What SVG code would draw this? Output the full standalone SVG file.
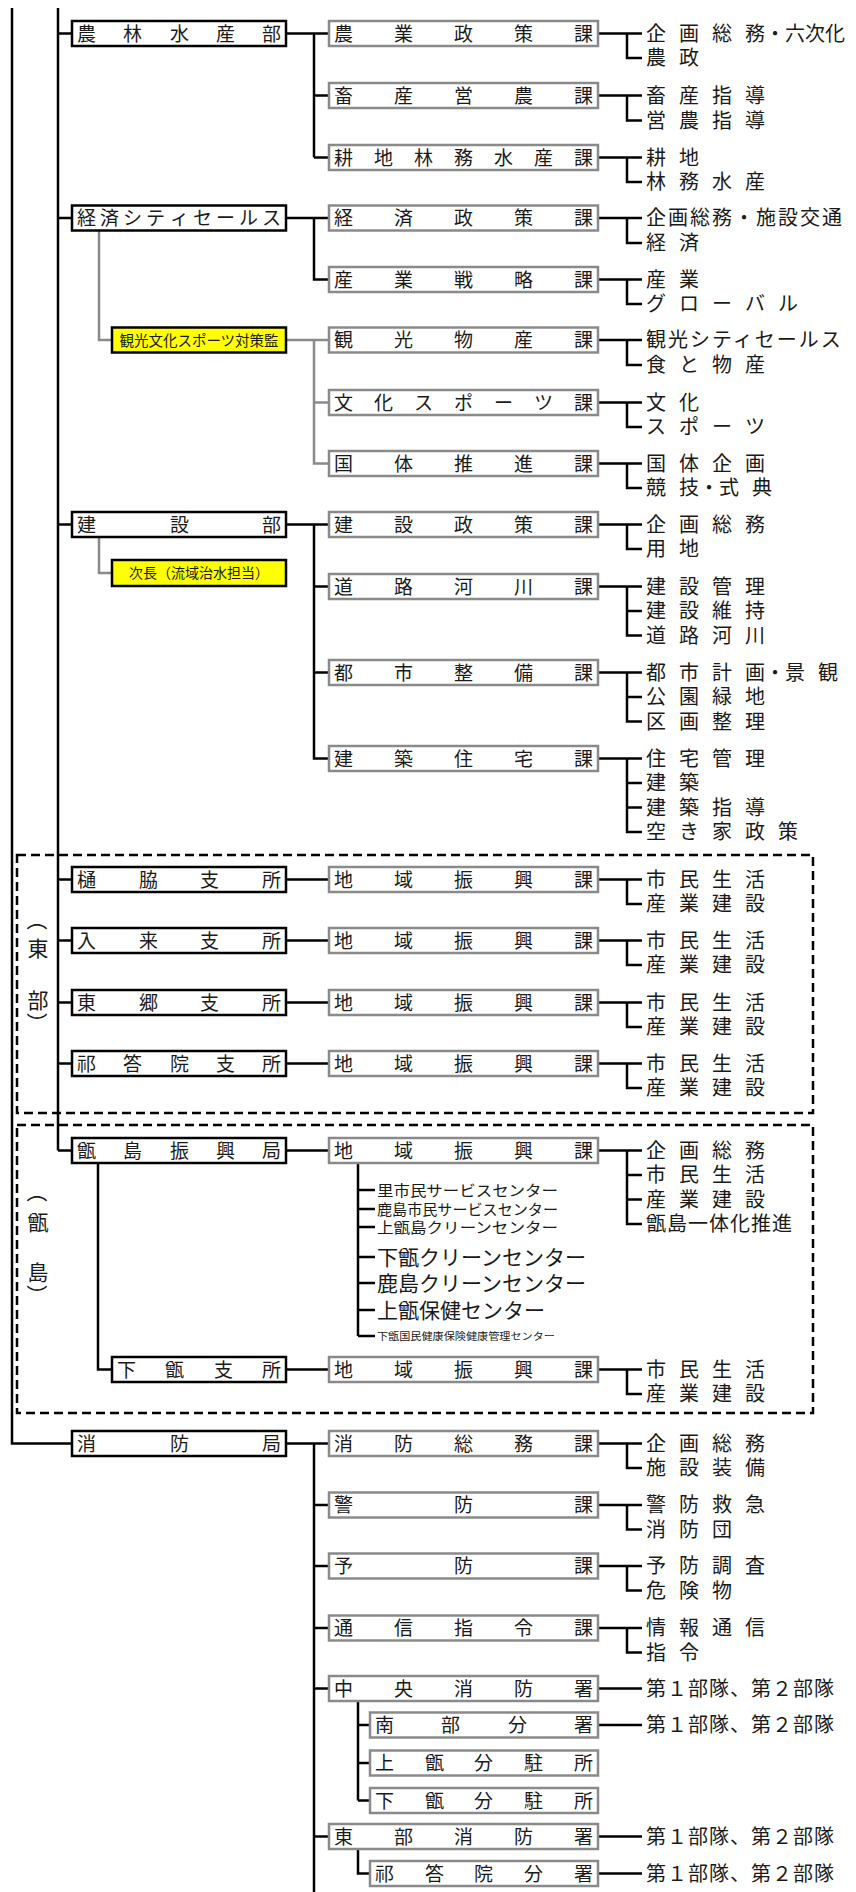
<svg xmlns="http://www.w3.org/2000/svg" width="856" height="1892" viewBox="0 0 856 1892">
<style>
.t{font-family:"Noto Sans CJK JP","Noto Sans CJK SC",sans-serif;fill:#1a1a1a}
.b{font-size:19px}
.i{font-size:20px}
.tight{letter-spacing:2px}
.tight1{letter-spacing:1px}
.ln{stroke:#000;stroke-width:2.5;fill:none}
.gl{stroke:#8a8a8a;stroke-width:2.5;fill:none}
.dept{fill:#fff;stroke:#000;stroke-width:2.5}
.sec{fill:#fff;stroke:#8a8a8a;stroke-width:2.5}
.yel{fill:#ff0;stroke:#000;stroke-width:2.5}
.dash{fill:none;stroke:#000;stroke-width:2.5;stroke-dasharray:9 5}
.vt{font-size:21px;text-anchor:middle}
.vp{font-size:21px;text-anchor:middle;dominant-baseline:central}
</style>
<rect width="856" height="1892" fill="#fff"/>
<g id="areas">
<rect class="dash" x="17" y="855" width="796" height="258"/>
<rect class="dash" x="17" y="1125" width="796" height="288"/>
<g id="label-east">
<text class="t vp" transform="translate(38 920) rotate(90)">（</text>
<text class="t vt" x="38" y="955.5">東</text>
<text class="t vt" x="38" y="1007.5">部</text>
<text class="t vp" transform="translate(38 1023) rotate(90)">）</text>
</g>
<g id="label-koshiki">
<text class="t vp" transform="translate(38 1192) rotate(90)">（</text>
<text class="t vt" x="38" y="1229.5">甑</text>
<text class="t vt" x="38" y="1279.5">島</text>
<text class="t vp" transform="translate(38 1295) rotate(90)">）</text>
</g>
</g>
<g id="connectors">
<path class="ln" d="M12 8V1443.5H72M58 8V1150.5M58 33.5H72M58 218H72M58 524.5H72M58 879.5H72M58 940.5H72M58 1002.5H72M58 1063.5H72M58 1150.5H72"/>
<path class="ln" d="M286 33.5H329M314 33.5V157.5M314 95.5H329M314 157.5H329"/>
<path class="ln" d="M286 218H329M314 218V279.5H329"/>
<path class="gl" d="M99 231V340H112M286 340H329M314 340V463.5H329M314 402.5H329"/>
<path class="ln" d="M286 524.5H329M314 524.5V758.5H329M314 586.5H329M314 672.5H329"/>
<path class="gl" d="M99 537V573H112"/>
<path class="ln" d="M286 879.5H329M286 940.5H329M286 1002.5H329M286 1063.5H329"/>
<path class="ln" d="M286 1150.5H329M98 1163V1369.5H112M286 1369.5H329"/>
<path class="ln" d="M358 1163V1336M358 1190H375M358 1209H375M358 1227H375M358 1257H375M358 1283H375M358 1310H375M358 1336H375"/>
<path class="ln" d="M286 1443.5H329M314 1443.5V1892M314 1505H329M314 1566H329M314 1628H329M314 1688.5H329M314 1836.5H329"/>
<path class="ln" d="M358 1701V1800.5M358 1725H370M358 1763H370M358 1800.5H370M358 1849V1873.5H370"/>
<path class="ln" d="M598 1688.5H642M598 1725H642M598 1836.5H642M598 1873.5H642"/>
<path class="ln" d="M598 33.5H642M627 33.5V58H642M598 95.5H642M627 95.5V120.5H642M598 157.5H642M627 157.5V182H642"/>
<path class="ln" d="M598 218H642M627 218V243H642M598 279.5H642M627 279.5V304H642M598 340H642M627 340V365H642M598 402.5H642M627 402.5V427H642M598 463.5H642M627 463.5V488H642"/>
<path class="ln" d="M598 524.5H642M627 524.5V549H642M598 586.5H642M627 586.5V635.5H642M627 611H642M598 672.5H642M627 672.5V721.5H642M627 697H642M598 758.5H642M627 758.5V832H642M627 783H642M627 807.5H642"/>
<path class="ln" d="M598 879.5H642M627 879.5V904H642M598 940.5H642M627 940.5V965H642M598 1002.5H642M627 1002.5V1027H642M598 1063.5H642M627 1063.5V1088H642"/>
<path class="ln" d="M598 1150.5H642M627 1150.5V1224H642M627 1175H642M627 1199.5H642M598 1369.5H642M627 1369.5V1394H642"/>
<path class="ln" d="M598 1443.5H642M627 1443.5V1468H642M598 1505H642M627 1505V1529.5H642M598 1566H642M627 1566V1590.5H642M598 1628H642M627 1628V1652.5H642"/>
</g>
<g id="n-nourin"><rect class="dept" x="72" y="21" width="214" height="25"/><text class="t b" x="77 123 170 216 262" y="40.5">農林水産部</text></g>
<g id="n-keizai"><rect class="dept" x="72" y="205.5" width="214" height="25"/><text class="t b" x="77 100 123 146 170 193 216 239 262" y="225">経済シティセールス</text></g>
<g id="n-kensetsu"><rect class="dept" x="72" y="512" width="214" height="25"/><text class="t b" x="77 170 262" y="531.5">建設部</text></g>
<g id="n-hiwaki"><rect class="dept" x="72" y="867" width="214" height="25"/><text class="t b" x="77 139 200 262" y="886.5">樋脇支所</text></g>
<g id="n-iriki"><rect class="dept" x="72" y="928" width="214" height="25"/><text class="t b" x="77 139 200 262" y="947.5">入来支所</text></g>
<g id="n-tougou"><rect class="dept" x="72" y="990" width="214" height="25"/><text class="t b" x="77 139 200 262" y="1009.5">東郷支所</text></g>
<g id="n-kedoin"><rect class="dept" x="72" y="1051" width="214" height="25"/><text class="t b" x="77 123 170 216 262" y="1070.5">祁答院支所</text></g>
<g id="n-koshiki"><rect class="dept" x="72" y="1138" width="214" height="25"/><text class="t b" x="77 123 170 216 262" y="1157.5">甑島振興局</text></g>
<g id="n-shimokoshiki"><rect class="dept" x="112" y="1357" width="174" height="25"/><text class="t b" x="117 165 214 262" y="1376.5">下甑支所</text></g>
<g id="n-shobo"><rect class="dept" x="72" y="1431" width="214" height="25"/><text class="t b" x="77 170 262" y="1450.5">消防局</text></g>
<g id="n-kanko-kan"><rect class="yel" x="112" y="327.5" width="174" height="25"/><text class="t" x="199" y="345.5" font-size="14.5" text-anchor="middle">観光文化スポーツ対策監</text></g>
<g id="n-jicho"><rect class="yel" x="112" y="560" width="174" height="26"/><text class="t" x="199" y="578" font-size="14" text-anchor="middle">次長（流域治水担当）</text></g>
<g id="n-s01"><rect class="sec" x="329" y="21" width="269" height="25"/><text class="t b" x="334 394 454 514 574" y="40.5">農業政策課</text></g>
<g id="n-s02"><rect class="sec" x="329" y="83" width="269" height="25"/><text class="t b" x="334 394 454 514 574" y="102.5">畜産営農課</text></g>
<g id="n-s03"><rect class="sec" x="329" y="145" width="269" height="25"/><text class="t b" x="334 374 414 454 494 534 574" y="164.5">耕地林務水産課</text></g>
<g id="n-s04"><rect class="sec" x="329" y="205.5" width="269" height="25"/><text class="t b" x="334 394 454 514 574" y="225">経済政策課</text></g>
<g id="n-s05"><rect class="sec" x="329" y="267" width="269" height="25"/><text class="t b" x="334 394 454 514 574" y="286.5">産業戦略課</text></g>
<g id="n-s06"><rect class="sec" x="329" y="327.5" width="269" height="25"/><text class="t b" x="334 394 454 514 574" y="347">観光物産課</text></g>
<g id="n-s07"><rect class="sec" x="329" y="390" width="269" height="25"/><text class="t b" x="334 374 414 454 494 534 574" y="409.5">文化スポーツ課</text></g>
<g id="n-s08"><rect class="sec" x="329" y="451" width="269" height="25"/><text class="t b" x="334 394 454 514 574" y="470.5">国体推進課</text></g>
<g id="n-s09"><rect class="sec" x="329" y="512" width="269" height="25"/><text class="t b" x="334 394 454 514 574" y="531.5">建設政策課</text></g>
<g id="n-s10"><rect class="sec" x="329" y="574" width="269" height="25"/><text class="t b" x="334 394 454 514 574" y="593.5">道路河川課</text></g>
<g id="n-s11"><rect class="sec" x="329" y="660" width="269" height="25"/><text class="t b" x="334 394 454 514 574" y="679.5">都市整備課</text></g>
<g id="n-s12"><rect class="sec" x="329" y="746" width="269" height="25"/><text class="t b" x="334 394 454 514 574" y="765.5">建築住宅課</text></g>
<g id="n-s13"><rect class="sec" x="329" y="867" width="269" height="25"/><text class="t b" x="334 394 454 514 574" y="886.5">地域振興課</text></g>
<g id="n-s14"><rect class="sec" x="329" y="928" width="269" height="25"/><text class="t b" x="334 394 454 514 574" y="947.5">地域振興課</text></g>
<g id="n-s15"><rect class="sec" x="329" y="990" width="269" height="25"/><text class="t b" x="334 394 454 514 574" y="1009.5">地域振興課</text></g>
<g id="n-s16"><rect class="sec" x="329" y="1051" width="269" height="25"/><text class="t b" x="334 394 454 514 574" y="1070.5">地域振興課</text></g>
<g id="n-s17"><rect class="sec" x="329" y="1138" width="269" height="25"/><text class="t b" x="334 394 454 514 574" y="1157.5">地域振興課</text></g>
<g id="n-s18"><rect class="sec" x="329" y="1357" width="269" height="25"/><text class="t b" x="334 394 454 514 574" y="1376.5">地域振興課</text></g>
<g id="n-s19"><rect class="sec" x="329" y="1431" width="269" height="25"/><text class="t b" x="334 394 454 514 574" y="1450.5">消防総務課</text></g>
<g id="n-s20"><rect class="sec" x="329" y="1492.5" width="269" height="25"/><text class="t b" x="334 454 574" y="1512">警防課</text></g>
<g id="n-s21"><rect class="sec" x="329" y="1553.5" width="269" height="25"/><text class="t b" x="334 454 574" y="1573">予防課</text></g>
<g id="n-s22"><rect class="sec" x="329" y="1615.5" width="269" height="25"/><text class="t b" x="334 394 454 514 574" y="1635">通信指令課</text></g>
<g id="n-s23"><rect class="sec" x="329" y="1676" width="269" height="25"/><text class="t b" x="334 394 454 514 574" y="1695.5">中央消防署</text></g>
<g id="n-s24"><rect class="sec" x="370" y="1712.5" width="228" height="25"/><text class="t b" x="375 441 508 574" y="1732">南部分署</text></g>
<g id="n-s25"><rect class="sec" x="370" y="1750.5" width="228" height="25"/><text class="t b" x="375 425 474 524 574" y="1770">上甑分駐所</text></g>
<g id="n-s26"><rect class="sec" x="370" y="1788" width="228" height="25"/><text class="t b" x="375 425 474 524 574" y="1807.5">下甑分駐所</text></g>
<g id="n-s27"><rect class="sec" x="329" y="1824" width="269" height="25"/><text class="t b" x="334 394 454 514 574" y="1843.5">東部消防署</text></g>
<g id="n-s28"><rect class="sec" x="370" y="1861" width="228" height="25"/><text class="t b" x="375 425 474 524 574" y="1880.5">祁答院分署</text></g>
<g id="n-centers">
<text class="t" x="377" y="1195.5" font-size="15" textLength="181" lengthAdjust="spacingAndGlyphs">里市民サービスセンター</text>
<text class="t" x="377" y="1214.5" font-size="15" textLength="181" lengthAdjust="spacingAndGlyphs">鹿島市民サービスセンター</text>
<text class="t" x="377" y="1232.5" font-size="15" textLength="181" lengthAdjust="spacingAndGlyphs">上甑島クリーンセンター</text>
<text class="t" x="377" y="1264.5" font-size="21">下甑クリーンセンター</text>
<text class="t" x="377" y="1290.5" font-size="21">鹿島クリーンセンター</text>
<text class="t" x="377" y="1317.5" font-size="21">上甑保健センター</text>
<text class="t" x="377" y="1339.5" font-size="10" textLength="178" lengthAdjust="spacingAndGlyphs">下甑国民健康保険健康管理センター</text>
</g>
<g id="n-items">
<text class="t i" x="646 666 679 699 712 732 745 765 785 805 825" y="40.5">企 画 総 務・六次化</text>
<text class="t i" x="646 666 679" y="65">農 政</text>
<text class="t i" x="646 666 679 699 712 732 745" y="102.5">畜 産 指 導</text>
<text class="t i" x="646 666 679 699 712 732 745" y="127.5">営 農 指 導</text>
<text class="t i" x="646 666 679" y="164.5">耕 地</text>
<text class="t i" x="646 666 679 699 712 732 745" y="189">林 務 水 産</text>
<text class="t i tight" x="646" y="225">企画総務・施設交通</text>
<text class="t i" x="646 666 679" y="250">経 済</text>
<text class="t i" x="646 666 679" y="286.5">産 業</text>
<text class="t i" x="646 666 679 699 712 732 745 765 778" y="311">グ ロ ー バ ル</text>
<text class="t i tight" x="646" y="347">観光シティセールス</text>
<text class="t i" x="646 666 679 699 712 732 745" y="372">食 と 物 産</text>
<text class="t i" x="646 666 679" y="409.5">文 化</text>
<text class="t i" x="646 666 679 699 712 732 745" y="434">ス ポ ー ツ</text>
<text class="t i" x="646 666 679 699 712 732 745" y="470.5">国 体 企 画</text>
<text class="t i" x="646 666 679 699 719 739 752" y="495">競 技・式 典</text>
<text class="t i" x="646 666 679 699 712 732 745" y="531.5">企 画 総 務</text>
<text class="t i" x="646 666 679" y="556">用 地</text>
<text class="t i" x="646 666 679 699 712 732 745" y="593.5">建 設 管 理</text>
<text class="t i" x="646 666 679 699 712 732 745" y="618">建 設 維 持</text>
<text class="t i" x="646 666 679 699 712 732 745" y="642.5">道 路 河 川</text>
<text class="t i" x="646 666 679 699 712 732 745 765 785 805 818" y="679.5">都 市 計 画・景 観</text>
<text class="t i" x="646 666 679 699 712 732 745" y="704">公 園 緑 地</text>
<text class="t i" x="646 666 679 699 712 732 745" y="728.5">区 画 整 理</text>
<text class="t i" x="646 666 679 699 712 732 745" y="765.5">住 宅 管 理</text>
<text class="t i" x="646 666 679" y="790">建 築</text>
<text class="t i" x="646 666 679 699 712 732 745" y="814.5">建 築 指 導</text>
<text class="t i" x="646 666 679 699 712 732 745 765 778" y="839">空 き 家 政 策</text>
<text class="t i" x="646 666 679 699 712 732 745" y="886.5">市 民 生 活</text>
<text class="t i" x="646 666 679 699 712 732 745" y="911">産 業 建 設</text>
<text class="t i" x="646 666 679 699 712 732 745" y="947.5">市 民 生 活</text>
<text class="t i" x="646 666 679 699 712 732 745" y="972">産 業 建 設</text>
<text class="t i" x="646 666 679 699 712 732 745" y="1009.5">市 民 生 活</text>
<text class="t i" x="646 666 679 699 712 732 745" y="1034">産 業 建 設</text>
<text class="t i" x="646 666 679 699 712 732 745" y="1070.5">市 民 生 活</text>
<text class="t i" x="646 666 679 699 712 732 745" y="1095">産 業 建 設</text>
<text class="t i" x="646 666 679 699 712 732 745" y="1157.5">企 画 総 務</text>
<text class="t i" x="646 666 679 699 712 732 745" y="1182">市 民 生 活</text>
<text class="t i" x="646 666 679 699 712 732 745" y="1206.5">産 業 建 設</text>
<text class="t i tight1" x="646" y="1231">甑島一体化推進</text>
<text class="t i" x="646 666 679 699 712 732 745" y="1376.5">市 民 生 活</text>
<text class="t i" x="646 666 679 699 712 732 745" y="1401">産 業 建 設</text>
<text class="t i" x="646 666 679 699 712 732 745" y="1450.5">企 画 総 務</text>
<text class="t i" x="646 666 679 699 712 732 745" y="1475">施 設 装 備</text>
<text class="t i" x="646 666 679 699 712 732 745" y="1512">警 防 救 急</text>
<text class="t i" x="646 666 679 699 712" y="1536.5">消 防 団</text>
<text class="t i" x="646 666 679 699 712 732 745" y="1573">予 防 調 査</text>
<text class="t i" x="646 666 679 699 712" y="1597.5">危 険 物</text>
<text class="t i" x="646 666 679 699 712 732 745" y="1635">情 報 通 信</text>
<text class="t i" x="646 666 679" y="1659.5">指 令</text>
<text class="t i tight1" x="646" y="1695.5">第１部隊、第２部隊</text>
<text class="t i tight1" x="646" y="1732">第１部隊、第２部隊</text>
<text class="t i tight1" x="646" y="1843.5">第１部隊、第２部隊</text>
<text class="t i tight1" x="646" y="1880.5">第１部隊、第２部隊</text>
</g>
</svg>
